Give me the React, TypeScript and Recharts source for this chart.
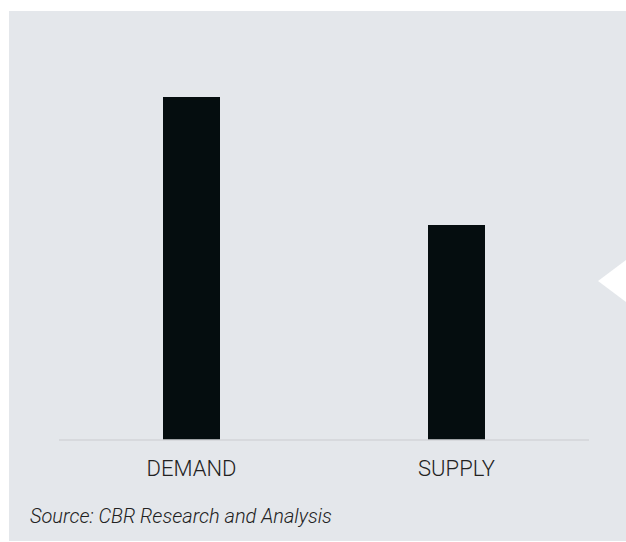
import { BarChart, Bar, XAxis, YAxis } from 'recharts';

// values (no axis shown, demand taken as 100)
const categories = ['DEMAND', 'SUPPLY'];
const levels = [100, 62.7];
const sourceNote = 'Source: CBR Research and Analysis';

const chartData = categories.map((name, i) => ({ name, value: levels[i] }));

const CategoryTick = (props: any) => {
  const { x, y, payload } = props;
  return (
    <text
      x={x}
      y={y + 28}
      textAnchor="middle"
      fill="#222"
      fontFamily="Roboto"
      fontWeight={300}
      fontSize={22}
    >
      {payload.value}
    </text>
  );
};

export default function App() {
  return (
    <div
      style={{
        position: 'fixed',
        left: 9,
        top: 11,
        width: 617,
        height: 530,
        background: '#e4e7eb',
        overflow: 'hidden',
      }}
    >
      <BarChart
        width={617}
        height={480}
        data={chartData}
        margin={{ top: 86, right: 37, left: 50, bottom: 11 }}
      >
        <XAxis
          dataKey="name"
          height={40}
          tickLine={false}
          axisLine={{ stroke: '#d3d5d9', strokeWidth: 1.5 }}
          tick={<CategoryTick />}
          interval={0}
        />
        <YAxis hide domain={[0, 100]} />
        <Bar dataKey="value" fill="#050d0f" barSize={57} isAnimationActive={false} />
      </BarChart>

      <svg width={617} height={530} style={{ position: 'absolute', left: 0, top: 0, pointerEvents: 'none' }}>
        <polygon points="589,270 617,249 617,291" fill="#ffffff" />
        <text
          x={21}
          y={512}
          fill="#222"
          fontFamily="Roboto"
          fontWeight={300}
          fontStyle="italic"
          fontSize={20}
        >
          {sourceNote}
        </text>
      </svg>
    </div>
  );
}
